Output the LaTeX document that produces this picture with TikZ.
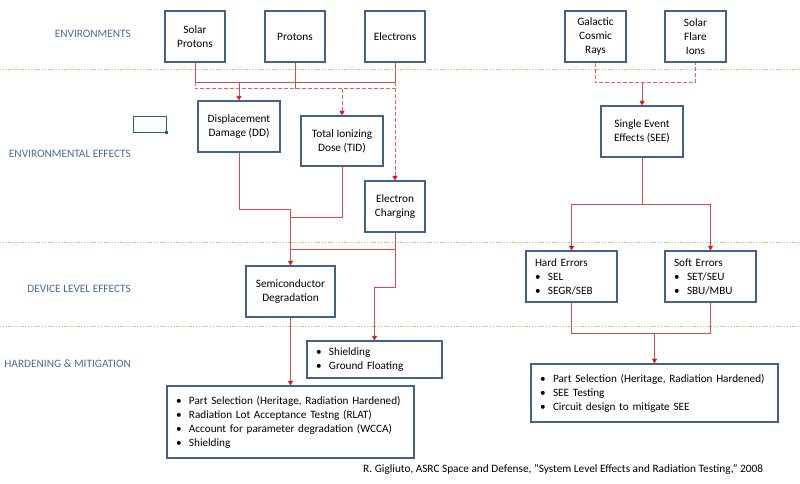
\documentclass[tikz,border=0pt]{standalone}
\usepackage{fontspec}
\setmainfont{Carlito}
\usetikzlibrary{arrows.meta}
\definecolor{boxblue}{HTML}{41618F}
\definecolor{linered}{HTML}{DB4B4B}
\definecolor{dashred}{HTML}{E86060}
\definecolor{arrowred}{HTML}{E81010}
\definecolor{labelblue}{HTML}{4A6A9C}
\definecolor{sepgreen}{HTML}{A8CC70}
\definecolor{cellgreen}{HTML}{217346}
\newcommand{\bulit}[1]{\mbox{\makebox[13pt][l]{\textbullet}#1}}
\begin{document}
\begin{tikzpicture}[x=1pt,y=-1pt,
  box/.style={draw=boxblue, line width=1.3pt, fill=white, font=\fontsize{11.3}{14}\selectfont, align=center, inner sep=0pt},
  listbox/.style={box, font=\fontsize{11.2}{14}\selectfont, align=left, inner xsep=9pt, inner ysep=0pt},
  rl/.style={draw=linered, line width=0.9pt},
  arr/.style={-{Triangle[width=5pt,length=4.5pt,color=arrowred]}},
  dsh/.style={draw=dashred, line width=1pt, dash pattern=on 4pt off 2pt},
  sep/.style={draw=sepgreen, line width=1pt, dash pattern=on 1.2pt off 1.6pt},
  lab/.style={text=labelblue, font=\fontsize{11.3}{14}\selectfont, anchor=east, inner sep=0pt}
]
\useasboundingbox (0,0) rectangle (800,484);

% separators
\draw[sep] (0,70) -- (800,70);
\draw[sep] (0,242) -- (800,242);
\draw[sep] (0,326) -- (800,326);

% row labels
\node[lab] (l1) at (131,34) {ENVIRONMENTS};
\node[lab] (l2) at (131,154) {ENVIRONMENTAL EFFECTS};
\node[lab] (l3) at (131,289) {DEVICE LEVEL EFFECTS};
\node[lab] (l4) at (131,364) {HARDENING \& MITIGATION};

% spreadsheet cell
\node[draw=cellgreen, line width=0.9pt, minimum width=33pt, minimum height=16pt, inner sep=0pt] (cell) at (149.5,124) {};
\node[fill=cellgreen, minimum size=3pt, inner sep=0pt] (cellh) at (cell.south east) {};

% boxes
\node[box, minimum width=60pt, minimum height=51pt] (SP) at (195,36.5) {Solar\\Protons};
\node[box, minimum width=60pt, minimum height=51pt] (P) at (295,36.5) {Protons};
\node[box, minimum width=60pt, minimum height=51pt] (E) at (395,36.5) {Electrons};
\node[box, minimum width=61pt, minimum height=51pt] (GCR) at (595.5,36.5) {Galactic\\Cosmic\\Rays};
\node[box, minimum width=61pt, minimum height=51pt] (SFI) at (695.5,36.5) {Solar\\Flare\\Ions};

\node[box, minimum width=82pt, minimum height=51pt] (DD) at (239,126.5) {Displacement\\Damage (DD)};
\node[box, minimum width=82pt, minimum height=50pt] (TID) at (342,141) {Total Ionizing\\Dose (TID)};
\node[box, minimum width=60pt, minimum height=51pt] (EC) at (395,206.5) {Electron\\Charging};
\node[box, minimum width=82pt, minimum height=51pt] (SEE) at (642,131.5) {Single Event\\Effects (SEE)};

\node[box, minimum width=89pt, minimum height=51pt] (SD) at (290.5,291.5) {Semiconductor\\Degradation};
\node[listbox, text width=73pt, minimum height=51pt] (HE) at (571.5,276.5) {Hard Errors\\\bulit{SEL}\\\bulit{SEGR/SEB}};
\node[listbox, text width=73pt, minimum height=51pt] (SE) at (710.5,276.5) {Soft Errors\\\bulit{SET/SEU}\\\bulit{SBU/MBU}};

\node[listbox, text width=117pt, minimum height=37pt] (SH) at (374.5,359.5) {\bulit{Shielding}\\\bulit{Ground Floating}};
\node[listbox, text width=229pt, minimum height=72pt] (PSL) at (290.5,422) {\bulit{Part Selection (Heritage, Radiation Hardened)}\\\bulit{Radiation Lot Acceptance Testng (RLAT)}\\\bulit{Account for parameter degradation (WCCA)}\\\bulit{Shielding}};
\node[listbox, text width=229pt, minimum height=58pt] (PSR) at (654.5,393) {\bulit{Part Selection (Heritage, Radiation Hardened)}\\\bulit{SEE Testing}\\\bulit{Circuit design to mitigate SEE}};

% citation
\node[anchor=west, inner sep=0pt, font=\fontsize{11.3}{13}\selectfont] (cite) at (363,469) {R. Gigliuto, ASRC Space and Defense, "System Level Effects and Radiation Testing," 2008};

% helper levels
\coordinate (yA) at (0,82);
\coordinate (yB) at (0,89);
\coordinate (yC) at (0,209);
\coordinate (yD) at (0,217);
\coordinate (yE) at (0,249);
\coordinate (yF) at (0,287);
\coordinate (yG) at (0,83);
\coordinate (yH) at (0,204);
\coordinate (yI) at (0,333);

% top-left connectors
\draw[rl] (SP.south) -- (SP.south |- yA) -- (E.south |- yA);
\draw[rl, dsh] (SP.south |- yA) -- (SP.south |- yB) -- (E.south |- yB);
\draw[rl] (P.south) -- (P.south |- yB);
\draw[rl] (E.south) -- (E.south |- yA);
\draw[rl, arr] (DD.north |- yA) -- (DD.north);
\draw[rl, dsh, arr] (TID.north |- yB) -- (TID.north);
\draw[rl, dsh, arr] (E.south |- yA) -- (EC.north);

% lower-left connectors
\draw[rl] (DD.south) -- (DD.south |- yC) -- (SD.north |- yC);
\draw[rl] (TID.south) -- (TID.south |- yD) -- (SD.north |- yD);
\draw[rl, arr] (SD.north |- yC) -- (SD.north);
\draw[rl] (EC.south) -- (EC.south |- yE) -- (SD.north |- yE);
\draw[rl, arr] (EC.south |- yE) -- (EC.south |- yF) -- (SH.north |- yF) -- (SH.north);
\draw[rl, arr] (SD.south) -- (PSL.north);

% right connectors
\draw[rl, dsh] (GCR.south) -- (GCR.south |- yG) -- (SFI.south |- yG) -- (SFI.south);
\draw[rl, arr] (SEE.north |- yG) -- (SEE.north);
\draw[rl] (SEE.south) -- (SEE.south |- yH);
\draw[rl, arr] (SEE.south |- yH) -| (HE.north);
\draw[rl, arr] (SEE.south |- yH) -| (SE.north);
\draw[rl] (HE.south) -- (HE.south |- yI) -- (SE.south |- yI) -- (SE.south);
\draw[rl, arr] (PSR.north |- yI) -- (PSR.north);
\end{tikzpicture}
\end{document}
